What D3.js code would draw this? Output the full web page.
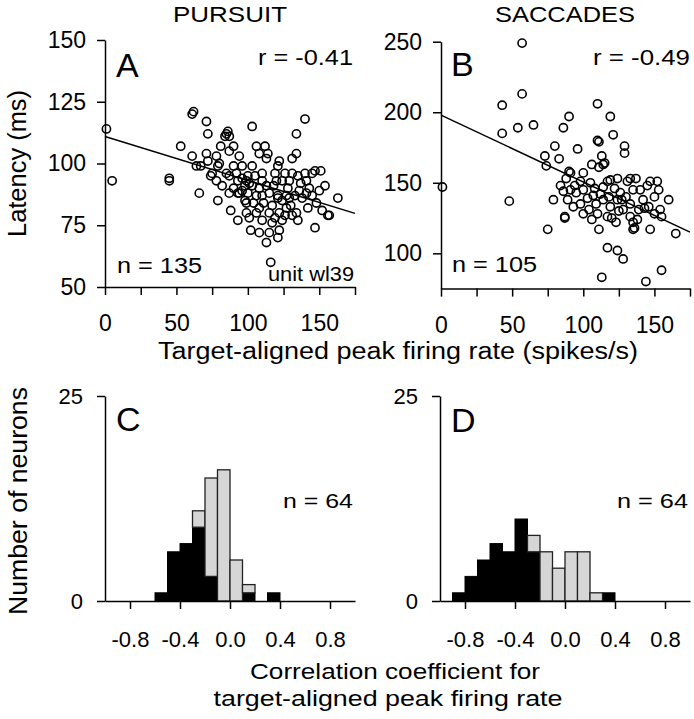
<!DOCTYPE html>
<html><head><meta charset="utf-8">
<script src="https://cdn.jsdelivr.net/npm/d3@7"></script>
<style>
html,body{margin:0;padding:0;background:#fff;}
text{font-family:"Liberation Sans",Arial,Helvetica,sans-serif;fill:#000;}
</style></head>
<body><div id="chart"></div>
<script>
// ---------- DATA ----------
const pursuitRate = [1,5,45,45,53,61,62,61,64,66,71,72,71,72,74,78,79,78,81,80,85,86,84,87,87,90,90,87,92,93,94,96,99,90,94,98,103,106,108,112,103,100,103,106,99,106,101,88,93,99,110,113,114,110,113,110,108,110,102,108,113,115,117,115,115,120,119,121,122,121,122,122,121,124,127,127,128,129,124,131,134,134,140,131,135,136,138,134,135,131,141,143,140,145,147,151,141,145,142,148,150,154,152,156,157,147,163,116,121,129,126,100,104,93,87,82,75,67,79,96,98,101,105,108,111,117,119,124,126,130,133,137,118,96,85];
const pursuitLatency = [114,93,94,93,107,120,121,103,99,88,117,112,104,101,95,103,99,93,107,100,112,113,111,111,105,107,99,95,96,93,103,99,93,90,88,85,115,107,104,107,99,95,91,87,84,80,78,81,77,80,96,102,104,93,91,87,82,77,73,72,68,72,76,80,88,93,96,99,101,86,80,73,70,77,82,87,90,93,93,102,104,112,118,96,95,89,86,80,77,79,93,90,96,96,97,97,88,87,82,84,89,91,81,79,79,74,86,60,87,86,96,88,84,88,88,91,96,99,85,94,91,92,95,90,84,83,78,85,79,83,87,92,91,89,96];
const saccadeRate = [57,57,43,43,54,65,1,48,75,73,74,80,83,86,90,96,110,119,121,110,111,129,129,113,114,115,106,111,100,98,90,91,88,84,86,91,94,79,89,87,87,93,98,103,104,107,109,114,117,119,124,114,119,110,117,111,120,123,124,127,128,131,133,137,135,140,133,135,135,136,139,145,147,152,153,150,146,150,154,155,147,160,165,117,124,128,113,144,155,95,100,105,108,112,118,122,126,130,133,142,100,106,125,138,143];
const saccadeLatency = [249,213,205,185,189,191,147,137,117,169,162,176,167,189,197,174,206,197,184,180,179,176,171,169,163,164,163,161,157,151,158,157,153,148,144,145,148,138,138,125,126,133,135,139,131,141,135,147,151,152,153,138,133,128,126,117,125,122,138,138,131,151,153,153,145,145,126,122,117,118,131,148,151,151,145,140,133,128,131,126,117,138,114,104,102,96,83,80,88,143,145,150,146,142,140,146,143,140,135,138,128,124,130,124,132];
const pursuitFit = [[0,110.9],[175,79.8]];
const saccadeFit = [[0,198],[175,115]];

const binStartsC = [-0.6,-0.5,-0.4,-0.3,-0.2,-0.1,0.0,0.1,0.2,0.3];
const sigCountsC = [1,6,7,9,3,0,0,1,0,1];
const nonSigCountsC = [0,0,0,2,12,16,5,1,0,0];
const binStartsD = [-0.9,-0.8,-0.7,-0.6,-0.5,-0.4,-0.3,-0.2,-0.1,0.0,0.1,0.2,0.3];
const sigCountsD = [1,3,5,7,6,10,6,0,0,0,0,0,1];
const nonSigCountsD = [0,0,0,0,0,0,2,6,4,6,6,1,0];
const binWidth = 0.1;

const rateTicks = [0,25,50,75,100,125,150,175];
const rateTickLabels = [0,50,100,150];
const latencyTicksA = [50,75,100,125,150];
const latencyTicksB = [100,150,200,250];
const countTicks = [0,25];
const corrTicks = [-0.8,-0.4,0.0,0.4,0.8];

// ---------- LAYOUT ----------
const W = 694, H = 719;
const svg = d3.select("#chart").append("svg").attr("width", W).attr("height", H);

const xA = d3.scaleLinear([0,175],[105,355]);
const yA = d3.scaleLinear([50,150],[287,40]);
const xB = d3.scaleLinear([0,175],[441,690]);
const yB = d3.scaleLinear([75,250],[288.6,41.7]);
const xC = d3.scaleLinear([-1,1],[105,355]);
const yC = d3.scaleLinear([0,25],[601,396]);
const xD = d3.scaleLinear([-1,1],[440,690]);
const yD = d3.scaleLinear([0,25],[601,396]);

const SW = 1.5;
function styleAxis(g, fs){
  g.selectAll("path.domain").attr("stroke","#000").attr("stroke-width",SW);
  g.selectAll(".tick line").attr("stroke","#000").attr("stroke-width",SW);
  g.selectAll(".tick text").attr("font-size",fs).attr("fill","#000")
    .attr("font-family",'"Liberation Sans",Arial,Helvetica,sans-serif');
}
function xAxisRate(x, y0){
  const g = svg.append("g").attr("transform",`translate(0,${y0})`)
    .call(d3.axisBottom(x).tickValues(rateTicks).tickSize(8).tickSizeOuter(0).tickPadding(20)
      .tickFormat(d => rateTickLabels.includes(d) ? String(d) : ""));
  styleAxis(g, 23);
}
function yAxis(y, x0, ticks, fs, pad){
  const g = svg.append("g").attr("transform",`translate(${x0},0)`)
    .call(d3.axisLeft(y).tickValues(ticks).tickSize(8).tickSizeOuter(0).tickPadding(pad)
      .tickFormat(d => String(d)));
  styleAxis(g, fs);
  return g;
}
function xAxisCorr(x, y0){
  const g = svg.append("g").attr("transform",`translate(0,${y0})`)
    .call(d3.axisBottom(x).tickValues(corrTicks).tickSize(8).tickSizeOuter(0).tickPadding(22)
      .tickFormat(d => d.toFixed(1)));
  styleAxis(g, 22);
}

// Panel A
xAxisRate(xA, yA(50));
yAxis(yA, xA(0), latencyTicksA, 23, 11);
svg.append("line").attr("x1",xA(pursuitFit[0][0])).attr("y1",yA(pursuitFit[0][1]))
  .attr("x2",xA(pursuitFit[1][0])).attr("y2",yA(pursuitFit[1][1])).attr("stroke","#000").attr("stroke-width",1.5);
svg.append("g").selectAll("circle").data(pursuitRate.map((r,i)=>[r,pursuitLatency[i]])).join("circle")
  .attr("cx",d=>xA(d[0])).attr("cy",d=>yA(d[1])).attr("r",4.1)
  .attr("fill","none").attr("stroke","#000").attr("stroke-width",1.6);

// Panel B
xAxisRate(xB, yB(75));
yAxis(yB, xB(0), latencyTicksB, 23, 11);
svg.append("line").attr("x1",xB(saccadeFit[0][0])).attr("y1",yB(saccadeFit[0][1]))
  .attr("x2",xB(saccadeFit[1][0])).attr("y2",yB(saccadeFit[1][1])).attr("stroke","#000").attr("stroke-width",1.5);
svg.append("g").selectAll("circle").data(saccadeRate.map((r,i)=>[r,saccadeLatency[i]])).join("circle")
  .attr("cx",d=>xB(d[0])).attr("cy",d=>yB(d[1])).attr("r",4.1)
  .attr("fill","none").attr("stroke","#000").attr("stroke-width",1.6);

// Histograms
function hist(x, y, starts, sig, non){
  const g = svg.append("g");
  g.selectAll("rect.sig").data(starts.map((s,i)=>({s,c:sig[i]})).filter(d=>d.c>0)).join("rect")
    .attr("x",d=>x(d.s)).attr("width",d=>x(d.s+binWidth)-x(d.s))
    .attr("y",d=>y(d.c)).attr("height",d=>y(0)-y(d.c))
    .attr("fill","#000").attr("stroke","#000").attr("stroke-width",1);
  g.selectAll("rect.non").data(starts.map((s,i)=>({s,b:sig[i],c:non[i]})).filter(d=>d.c>0)).join("rect")
    .attr("x",d=>x(d.s)).attr("width",d=>x(d.s+binWidth)-x(d.s))
    .attr("y",d=>y(d.b+d.c)).attr("height",d=>y(d.b)-y(d.b+d.c))
    .attr("fill","#d6d6d6").attr("stroke","#222").attr("stroke-width",1.3);
}
hist(xC, yC, binStartsC, sigCountsC, nonSigCountsC);
hist(xD, yD, binStartsD, sigCountsD, nonSigCountsD);
xAxisCorr(xC, yC(0));
xAxisCorr(xD, yD(0));
yAxis(yC, xC(-1), countTicks, 22, 14);
yAxis(yD, xD(-1), countTicks, 22, 14);

// ---------- TEXT ----------
function txt(s, x, y, fs, anchor, len){
  const t = svg.append("text").attr("x",x).attr("y",y).attr("font-size",fs)
    .attr("text-anchor",anchor||"start").text(s);
  if (len) t.attr("textLength",len).attr("lengthAdjust","spacingAndGlyphs");
  return t;
}
txt("PURSUIT", 230, 22, 22, "middle", 114);
txt("SACCADES", 565, 22, 22, "middle", 140);
txt("A", 116, 77, 34);
txt("B", 451, 76, 34);
txt("C", 116, 431, 34);
txt("D", 451, 432, 34);
txt("r = -0.41", 353, 65, 22, "end", 95);
txt("r = -0.49", 690, 65, 22, "end", 97);
txt("n = 135", 117, 273, 22, "start", 85);
txt("n = 105", 452, 272, 22, "start", 85);
txt("unit wl39", 354, 281, 20, "end", 86);
txt("n = 64", 353, 508, 21, "end", 70);
txt("n = 64", 688, 508, 21, "end", 71);
txt("Target-aligned peak firing rate (spikes/s)", 398, 359, 23, "middle", 480);
txt("Correlation coefficient for", 395, 679, 22, "middle", 290);
txt("target-aligned peak firing rate", 388, 706, 22, "middle", 349);
svg.append("text").attr("transform","translate(26,163.5) rotate(-90)").attr("font-size",25)
  .attr("text-anchor","middle").attr("textLength",147).attr("lengthAdjust","spacingAndGlyphs").text("Latency (ms)");
svg.append("text").attr("transform","translate(27,501) rotate(-90)").attr("font-size",25)
  .attr("text-anchor","middle").attr("textLength",228).attr("lengthAdjust","spacingAndGlyphs").text("Number of neurons");
</script></body></html>
